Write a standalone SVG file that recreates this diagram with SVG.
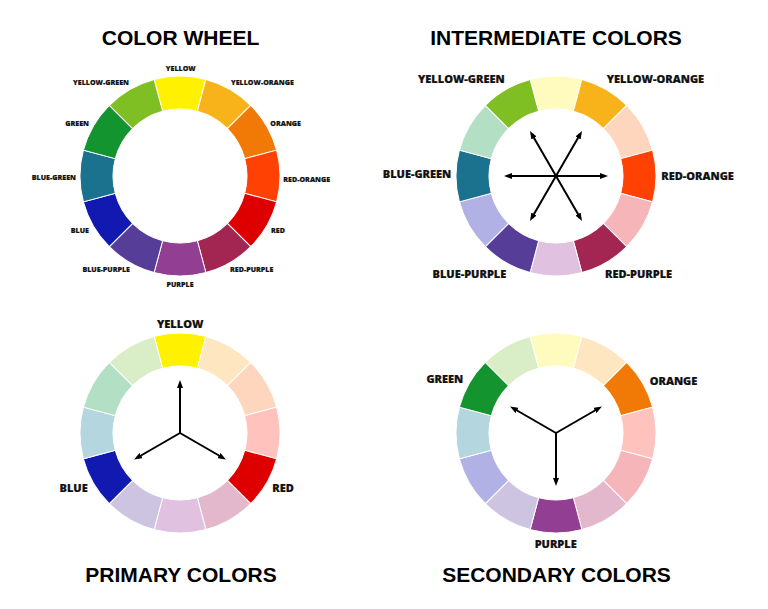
<svg xmlns="http://www.w3.org/2000/svg" xmlns:xlink="http://www.w3.org/1999/xlink" width="768" height="609" viewBox="0 0 768 609">
<style>
.title{font-family:"Liberation Sans",Arial,sans-serif;font-weight:bold;font-size:21px;fill:#000;text-anchor:middle}
.lbs{font-family:"Open Sans","Noto Sans",sans-serif;font-weight:800;font-size:7.1px;fill:#111;stroke:#111;stroke-width:0.15}
.lbl{font-family:"Open Sans","Noto Sans",sans-serif;font-weight:800;font-size:11px;fill:#111;stroke:#111;stroke-width:0.2}
.seg use{stroke:#fff;stroke-width:1}
.arr{stroke:#000;stroke-width:2;fill:none;marker-end:url(#ah)}
.arr2{stroke:#000;stroke-width:2;fill:none;marker-end:url(#ah);marker-start:url(#ahs)}
.e{text-anchor:end}.m{text-anchor:middle}
</style>
<defs>
<path id="seg" d="M-25.882 -96.593A100 100 0 0 1 25.882 -96.593L17.341 -64.717A67 67 0 0 0 -17.341 -64.717Z"/>
<marker id="ah" viewBox="0 0 8 6" refX="4" refY="3" markerWidth="8" markerHeight="6" markerUnits="userSpaceOnUse" orient="auto"><path d="M0 0L8 3L0 6Z" fill="#000"/></marker>
<marker id="ahs" viewBox="0 0 8 6" refX="4" refY="3" markerWidth="8" markerHeight="6" markerUnits="userSpaceOnUse" orient="auto-start-reverse"><path d="M0 0L8 3L0 6Z" fill="#000"/></marker>
</defs>
<rect width="768" height="609" fill="#fff"/>

<text class="title" x="180.5" y="45">COLOR WHEEL</text>
<text class="title" x="556" y="45">INTERMEDIATE COLORS</text>
<text class="title" x="181" y="582">PRIMARY COLORS</text>
<text class="title" x="556.5" y="582">SECONDARY COLORS</text>

<g id="wheel-color" class="seg" transform="translate(180,176)">
<use xlink:href="#seg" fill="#FFF100"/>
<use xlink:href="#seg" transform="rotate(30)" fill="#F8B21A"/>
<use xlink:href="#seg" transform="rotate(60)" fill="#F07A05"/>
<use xlink:href="#seg" transform="rotate(90)" fill="#FF4104"/>
<use xlink:href="#seg" transform="rotate(120)" fill="#DE0000"/>
<use xlink:href="#seg" transform="rotate(150)" fill="#A32552"/>
<use xlink:href="#seg" transform="rotate(180)" fill="#923E92"/>
<use xlink:href="#seg" transform="rotate(210)" fill="#563D97"/>
<use xlink:href="#seg" transform="rotate(240)" fill="#1219B1"/>
<use xlink:href="#seg" transform="rotate(270)" fill="#1B728E"/>
<use xlink:href="#seg" transform="rotate(300)" fill="#13942F"/>
<use xlink:href="#seg" transform="rotate(330)" fill="#80BF24"/>
</g>
<g id="labels-color">
<text class="lbs m" x="180.8" y="70.5">YELLOW</text>
<text class="lbs e" x="129" y="85">YELLOW-GREEN</text>
<text class="lbs" x="231" y="85">YELLOW-ORANGE</text>
<text class="lbs e" x="89" y="125.7">GREEN</text>
<text class="lbs" x="270.3" y="125.7">ORANGE</text>
<text class="lbs e" x="76" y="179.5">BLUE-GREEN</text>
<text class="lbs" x="283.3" y="181.7">RED-ORANGE</text>
<text class="lbs e" x="89" y="232.7">BLUE</text>
<text class="lbs" x="271" y="232.7">RED</text>
<text class="lbs e" x="130" y="271.7">BLUE-PURPLE</text>
<text class="lbs" x="230" y="271.7">RED-PURPLE</text>
<text class="lbs m" x="180" y="286.7">PURPLE</text>
</g>

<g id="wheel-intermediate" class="seg" transform="translate(556,176)">
<use xlink:href="#seg" fill="#FFFBBF"/>
<use xlink:href="#seg" transform="rotate(30)" fill="#F8B21A"/>
<use xlink:href="#seg" transform="rotate(60)" fill="#FED6BD"/>
<use xlink:href="#seg" transform="rotate(90)" fill="#FF4104"/>
<use xlink:href="#seg" transform="rotate(120)" fill="#F5B5B9"/>
<use xlink:href="#seg" transform="rotate(150)" fill="#A32552"/>
<use xlink:href="#seg" transform="rotate(180)" fill="#E1C1E0"/>
<use xlink:href="#seg" transform="rotate(210)" fill="#563D97"/>
<use xlink:href="#seg" transform="rotate(240)" fill="#B2B1E6"/>
<use xlink:href="#seg" transform="rotate(270)" fill="#1B728E"/>
<use xlink:href="#seg" transform="rotate(300)" fill="#B3E0C5"/>
<use xlink:href="#seg" transform="rotate(330)" fill="#80BF24"/>
</g>
<g id="labels-intermediate">
<text class="lbl e" x="504.7" y="83.3">YELLOW-GREEN</text>
<text class="lbl" x="606.7" y="83.3">YELLOW-ORANGE</text>
<text class="lbl e" x="451.3" y="177.7">BLUE-GREEN</text>
<text class="lbl" x="661.3" y="180">RED-ORANGE</text>
<text class="lbl e" x="506.3" y="277.7">BLUE-PURPLE</text>
<text class="lbl" x="605" y="277.7">RED-PURPLE</text>
</g>

<g id="wheel-primary" class="seg" transform="translate(180,433)">
<use xlink:href="#seg" fill="#FFF100"/>
<use xlink:href="#seg" transform="rotate(30)" fill="#FEE7C0"/>
<use xlink:href="#seg" transform="rotate(60)" fill="#FED6BD"/>
<use xlink:href="#seg" transform="rotate(90)" fill="#FFC2BC"/>
<use xlink:href="#seg" transform="rotate(120)" fill="#DE0000"/>
<use xlink:href="#seg" transform="rotate(150)" fill="#E4B8CC"/>
<use xlink:href="#seg" transform="rotate(180)" fill="#E1C1E0"/>
<use xlink:href="#seg" transform="rotate(210)" fill="#CCC4E0"/>
<use xlink:href="#seg" transform="rotate(240)" fill="#1219B1"/>
<use xlink:href="#seg" transform="rotate(270)" fill="#B3D6DF"/>
<use xlink:href="#seg" transform="rotate(300)" fill="#B3E0C5"/>
<use xlink:href="#seg" transform="rotate(330)" fill="#D9EDC6"/>
</g>
<g id="labels-primary">
<text class="lbl m" x="180.2" y="328.3">YELLOW</text>
<text class="lbl e" x="87.7" y="491.7">BLUE</text>
<text class="lbl" x="272.3" y="492.3">RED</text>
</g>

<g id="wheel-secondary" class="seg" transform="translate(556,433)">
<use xlink:href="#seg" fill="#FFFBBF"/>
<use xlink:href="#seg" transform="rotate(30)" fill="#FEE7C0"/>
<use xlink:href="#seg" transform="rotate(60)" fill="#F07A05"/>
<use xlink:href="#seg" transform="rotate(90)" fill="#FFC2BC"/>
<use xlink:href="#seg" transform="rotate(120)" fill="#F5B5B9"/>
<use xlink:href="#seg" transform="rotate(150)" fill="#E4B8CC"/>
<use xlink:href="#seg" transform="rotate(180)" fill="#923E92"/>
<use xlink:href="#seg" transform="rotate(210)" fill="#CCC4E0"/>
<use xlink:href="#seg" transform="rotate(240)" fill="#B2B1E6"/>
<use xlink:href="#seg" transform="rotate(270)" fill="#B3D6DF"/>
<use xlink:href="#seg" transform="rotate(300)" fill="#13942F"/>
<use xlink:href="#seg" transform="rotate(330)" fill="#D9EDC6"/>
</g>
<g id="labels-secondary">
<text class="lbl e" x="463.3" y="382.7">GREEN</text>
<text class="lbl" x="649.7" y="385">ORANGE</text>
<text class="lbl m" x="555.7" y="547.7">PURPLE</text>
</g>

<g id="connectors">
<line class="arr2" x1="508" y1="176" x2="604" y2="176"/>
<line class="arr2" x1="532" y1="217.57" x2="580" y2="134.43"/>
<line class="arr2" x1="580" y1="217.57" x2="532" y2="134.43"/>
<line class="arr" x1="180" y1="433" x2="180" y2="384"/>
<line class="arr" x1="180" y1="433" x2="137.56" y2="457.5"/>
<line class="arr" x1="180" y1="433" x2="222.44" y2="457.5"/>
<line class="arr" x1="556" y1="433" x2="556" y2="482"/>
<line class="arr" x1="556" y1="433" x2="513.56" y2="408.5"/>
<line class="arr" x1="556" y1="433" x2="598.44" y2="408.5"/>
</g>
</svg>
